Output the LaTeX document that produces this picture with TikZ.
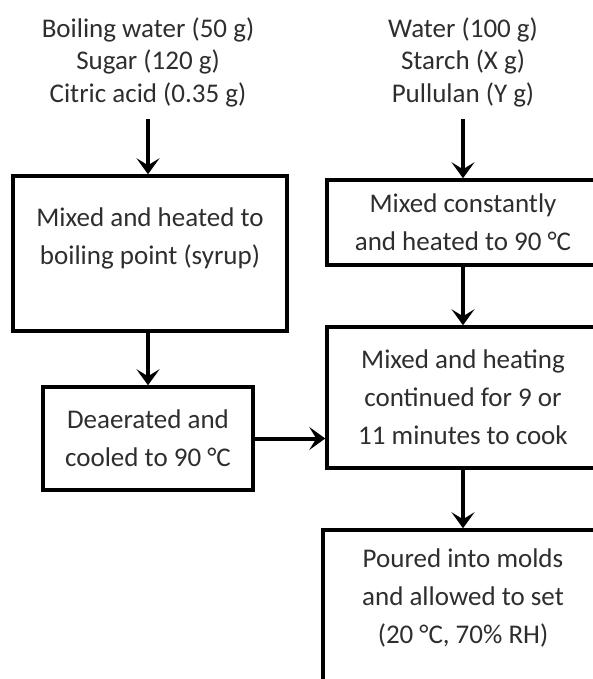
\documentclass[tikz,border=0pt]{standalone}
\usepackage{fontspec}
\setmainfont{Carlito}
\usetikzlibrary{arrows.meta}
\begin{document}
\begin{tikzpicture}[x=1pt,y=-1pt,
  box/.style={draw, line width=3.5pt, rectangle, inner sep=0pt},
  txt/.style={align=center, font=\fontsize{27}{38}\selectfont, text=black!82, inner sep=0pt},
  intxt/.style={align=center, font=\fontsize{27}{32.5}\selectfont, text=black!82, inner sep=0pt},
  arr/.style={line width=4pt, -{Stealth[length=16pt,width=23pt,inset=7pt]}}]
\useasboundingbox (0,0) rectangle (593,679);
\clip (0,0) rectangle (593,679);
% inputs
\node[intxt] (in1) at (148,62) {Boiling water (50 g)\\Sugar (120 g)\\Citric acid (0.35 g)};
\node[intxt] (in2) at (463,62) {Water (100 g)\\Starch (X g)\\Pullulan (Y g)};
% boxes
\node[box, minimum width=274pt, minimum height=155pt] (b1) at (150,253.5) {};
\node[txt] (t1) at (150,238) {Mixed and heated to\\boiling point (syrup)};
\node[box, txt, minimum width=210pt, minimum height=103pt] (b3) at (148,438.5) {Deaerated and\\cooled to 90 °C};
\node[box, txt, minimum width=272pt, minimum height=85pt] (b2) at (463,222.5) {Mixed constantly\\and heated to 90 °C};
\node[box, txt, minimum width=272pt, minimum height=141pt] (b4) at (463,397.5) {Mixed and heating\\continued for 9 or\\11 minutes to cook};
\node[box, minimum width=280pt, minimum height=210pt] (b5) at (463,635) {};
\node[txt] (t5) at (463,598) {Poured into molds\\and allowed to set\\(20 °C, 70\% RH)};
% arrows
\draw[arr, shorten <=12pt] (in1.south) -- (in1.south |- b1.north);
\draw[arr, shorten <=12pt] (in2.south) -- (in2.south |- b2.north);
\draw[arr] (b3.north |- b1.south) -- (b3.north);
\draw[arr] (b2.south) -- (b4.north);
\draw[arr] (b3.east) -- (b3.east -| b4.west);
\draw[arr] (b4.south) -- (b4.south |- b5.north);
\end{tikzpicture}
\end{document}
